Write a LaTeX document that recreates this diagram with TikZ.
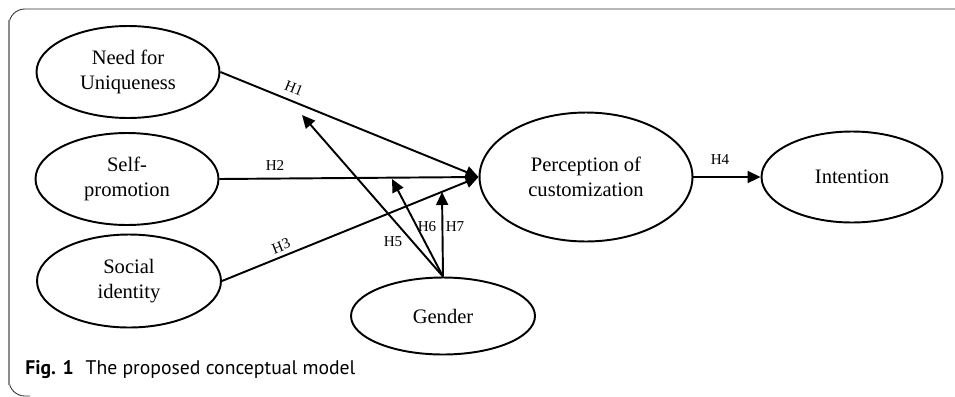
\documentclass[tikz,border=0pt]{standalone}
\usepackage{fontspec}
\setmainfont{Liberation Serif}
\newfontfamily\capfont{PT Sans}
\usetikzlibrary{shapes.geometric,arrows.meta}
\tikzset{
	construct/.style={ellipse, draw, line width=1.1pt, inner sep=0pt, align=center,
		font=\fontsize{11.7}{14.2}\selectfont},
	link/.style={line width=1.1pt, -{Triangle[length=2.6mm, width=2.4mm]}},
	hyp/.style={inner sep=0pt, font=\fontsize{8.6}{10}\selectfont}
}
\begin{document}
\begin{tikzpicture}[x=0.02cm, y=-0.02cm]
		\useasboundingbox (0,0) rectangle (955,396);
		% frame
		\begin{scope}
		\clip (0,0) rectangle (955,396);
		\draw[black!80, line width=0.5pt, rounded corners=9] (970,9) -- (9,9) -- (9,396) -- (30,396);
		\draw[black!45, line width=0.6pt] (9,20) -- (9,385);
		\end{scope}
		% constructs
		\node[construct, minimum width=3.66cm, minimum height=1.84cm] at (128,72) (nfu) {Need for\\Uniqueness};
		\node[construct, minimum width=3.66cm, minimum height=1.84cm] at (127,179) (sp) {Self-\\promotion};
		\node[construct, minimum width=3.68cm, minimum height=1.86cm] at (129,281) (si) {Social\\identity};
		\node[construct, minimum width=4.26cm, minimum height=2.58cm] at (586,177) (poc) {Perception of\\customization};
		\node[construct, minimum width=3.62cm, minimum height=1.82cm] at (852,177) (int) {Intention};
		\node[construct, minimum width=3.68cm, minimum height=1.54cm] at (443,316) (gen) {Gender};
		% moderation targets
		\coordinate (m5) at (302,115);
		\coordinate (m6) at (392,179);
		\coordinate (m7) at (442,192);
		% paths
		\draw[link] (nfu.east) -- (poc.west);
		\draw[link] (sp.east) -- (poc.west);
		\draw[link] (si.east) -- (poc.west);
		\draw[link] (poc.east) -- (int.west);
		\draw[link] (gen.north) -- (m5);
		\draw[link] (gen.north) -- (m6);
		\draw[link] (gen.north) -- (m7);
		% labels
		\node[hyp, rotate=-21.9] at (294,88) (h1) {H1};
		\node[hyp] at (275,165) (h2) {H2};
		\node[hyp, rotate=21.8] at (281,246) (h3) {H3};
		\node[hyp] at (720,160) (h4) {H4};
		\node[hyp] at (393,242) (h5) {H5};
		\node[hyp] at (427,227) (h6) {H6};
		\node[hyp] at (455,227) (h7) {H7};
		% caption
		\node[anchor=base west, inner sep=0pt, font=\capfont\fontsize{11.2}{13}\selectfont] at (25,374) (cap) {\textbf{Fig. 1}\hspace{0.6em}The proposed conceptual model};
	\end{tikzpicture}
\end{document}
